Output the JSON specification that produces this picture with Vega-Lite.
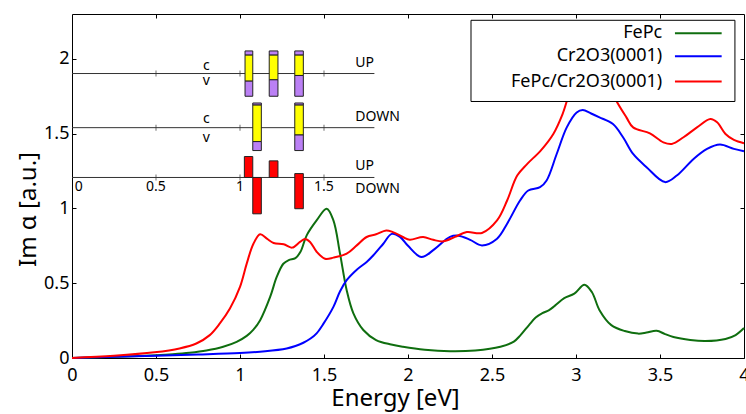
{
  "$schema": "https://vega.github.io/schema/vega-lite/v6.json",
  "width": 672,
  "height": 344,
  "autosize": "none",
  "padding": {"left": 72, "top": 14, "right": 2, "bottom": 56},
  "background": "white",
  "config": {"font": "Noto Sans", "view": {"stroke": null}},
  "datasets": {
    "curves": [
      {"series": "FePc", "E": 0.0, "v": 0.0},
      {"series": "FePc", "E": 0.2, "v": 0.006},
      {"series": "FePc", "E": 0.4, "v": 0.013},
      {"series": "FePc", "E": 0.5, "v": 0.018},
      {"series": "FePc", "E": 0.6, "v": 0.025},
      {"series": "FePc", "E": 0.7, "v": 0.035},
      {"series": "FePc", "E": 0.8, "v": 0.05},
      {"series": "FePc", "E": 0.9, "v": 0.075},
      {"series": "FePc", "E": 0.98, "v": 0.108},
      {"series": "FePc", "E": 1.04, "v": 0.148},
      {"series": "FePc", "E": 1.08, "v": 0.19},
      {"series": "FePc", "E": 1.12, "v": 0.253},
      {"series": "FePc", "E": 1.18, "v": 0.41},
      {"series": "FePc", "E": 1.218, "v": 0.54},
      {"series": "FePc", "E": 1.258, "v": 0.63},
      {"series": "FePc", "E": 1.29, "v": 0.655},
      {"series": "FePc", "E": 1.33, "v": 0.668},
      {"series": "FePc", "E": 1.36, "v": 0.71},
      {"series": "FePc", "E": 1.397, "v": 0.82},
      {"series": "FePc", "E": 1.456, "v": 0.92},
      {"series": "FePc", "E": 1.516, "v": 0.998},
      {"series": "FePc", "E": 1.556, "v": 0.92},
      {"series": "FePc", "E": 1.595, "v": 0.7},
      {"series": "FePc", "E": 1.635, "v": 0.453},
      {"series": "FePc", "E": 1.675, "v": 0.298},
      {"series": "FePc", "E": 1.734, "v": 0.187},
      {"series": "FePc", "E": 1.81, "v": 0.12},
      {"series": "FePc", "E": 1.9, "v": 0.09},
      {"series": "FePc", "E": 1.97, "v": 0.075},
      {"series": "FePc", "E": 2.1, "v": 0.055},
      {"series": "FePc", "E": 2.25, "v": 0.045},
      {"series": "FePc", "E": 2.4, "v": 0.05},
      {"series": "FePc", "E": 2.55, "v": 0.075},
      {"series": "FePc", "E": 2.63, "v": 0.11},
      {"series": "FePc", "E": 2.67, "v": 0.153},
      {"series": "FePc", "E": 2.72, "v": 0.22},
      {"series": "FePc", "E": 2.76, "v": 0.27},
      {"series": "FePc", "E": 2.8, "v": 0.3},
      {"series": "FePc", "E": 2.84, "v": 0.32},
      {"series": "FePc", "E": 2.875, "v": 0.35},
      {"series": "FePc", "E": 2.93, "v": 0.4},
      {"series": "FePc", "E": 2.99, "v": 0.43},
      {"series": "FePc", "E": 3.05, "v": 0.49},
      {"series": "FePc", "E": 3.095, "v": 0.44},
      {"series": "FePc", "E": 3.14, "v": 0.32},
      {"series": "FePc", "E": 3.21, "v": 0.22},
      {"series": "FePc", "E": 3.29, "v": 0.18},
      {"series": "FePc", "E": 3.37, "v": 0.163},
      {"series": "FePc", "E": 3.42, "v": 0.17},
      {"series": "FePc", "E": 3.48, "v": 0.182},
      {"series": "FePc", "E": 3.53, "v": 0.16},
      {"series": "FePc", "E": 3.58, "v": 0.14},
      {"series": "FePc", "E": 3.68, "v": 0.12},
      {"series": "FePc", "E": 3.77, "v": 0.113},
      {"series": "FePc", "E": 3.89, "v": 0.127},
      {"series": "FePc", "E": 3.95, "v": 0.153},
      {"series": "FePc", "E": 4.0, "v": 0.2},
      {"series": "Cr2O3(0001)", "E": 0.0, "v": 0.0},
      {"series": "Cr2O3(0001)", "E": 0.25, "v": 0.008},
      {"series": "Cr2O3(0001)", "E": 0.5, "v": 0.015},
      {"series": "Cr2O3(0001)", "E": 0.75, "v": 0.023},
      {"series": "Cr2O3(0001)", "E": 1.0, "v": 0.033},
      {"series": "Cr2O3(0001)", "E": 1.15, "v": 0.045},
      {"series": "Cr2O3(0001)", "E": 1.278, "v": 0.064},
      {"series": "Cr2O3(0001)", "E": 1.33, "v": 0.08},
      {"series": "Cr2O3(0001)", "E": 1.377, "v": 0.102},
      {"series": "Cr2O3(0001)", "E": 1.42, "v": 0.13},
      {"series": "Cr2O3(0001)", "E": 1.456, "v": 0.165},
      {"series": "Cr2O3(0001)", "E": 1.496, "v": 0.228},
      {"series": "Cr2O3(0001)", "E": 1.556, "v": 0.342},
      {"series": "Cr2O3(0001)", "E": 1.595, "v": 0.445},
      {"series": "Cr2O3(0001)", "E": 1.635, "v": 0.52},
      {"series": "Cr2O3(0001)", "E": 1.695, "v": 0.59},
      {"series": "Cr2O3(0001)", "E": 1.754, "v": 0.642},
      {"series": "Cr2O3(0001)", "E": 1.794, "v": 0.687},
      {"series": "Cr2O3(0001)", "E": 1.853, "v": 0.764},
      {"series": "Cr2O3(0001)", "E": 1.903, "v": 0.83},
      {"series": "Cr2O3(0001)", "E": 1.952, "v": 0.81},
      {"series": "Cr2O3(0001)", "E": 2.0, "v": 0.75},
      {"series": "Cr2O3(0001)", "E": 2.08, "v": 0.675},
      {"series": "Cr2O3(0001)", "E": 2.16, "v": 0.73},
      {"series": "Cr2O3(0001)", "E": 2.25, "v": 0.81},
      {"series": "Cr2O3(0001)", "E": 2.3, "v": 0.818},
      {"series": "Cr2O3(0001)", "E": 2.37, "v": 0.79},
      {"series": "Cr2O3(0001)", "E": 2.44, "v": 0.753},
      {"series": "Cr2O3(0001)", "E": 2.53, "v": 0.798},
      {"series": "Cr2O3(0001)", "E": 2.59, "v": 0.898},
      {"series": "Cr2O3(0001)", "E": 2.667, "v": 1.053},
      {"series": "Cr2O3(0001)", "E": 2.716, "v": 1.12},
      {"series": "Cr2O3(0001)", "E": 2.786, "v": 1.142},
      {"series": "Cr2O3(0001)", "E": 2.825, "v": 1.187},
      {"series": "Cr2O3(0001)", "E": 2.885, "v": 1.364},
      {"series": "Cr2O3(0001)", "E": 2.945, "v": 1.542},
      {"series": "Cr2O3(0001)", "E": 3.004, "v": 1.642},
      {"series": "Cr2O3(0001)", "E": 3.04, "v": 1.658},
      {"series": "Cr2O3(0001)", "E": 3.09, "v": 1.635},
      {"series": "Cr2O3(0001)", "E": 3.14, "v": 1.609},
      {"series": "Cr2O3(0001)", "E": 3.22, "v": 1.564},
      {"series": "Cr2O3(0001)", "E": 3.28, "v": 1.476},
      {"series": "Cr2O3(0001)", "E": 3.34, "v": 1.364},
      {"series": "Cr2O3(0001)", "E": 3.42, "v": 1.276},
      {"series": "Cr2O3(0001)", "E": 3.53, "v": 1.176},
      {"series": "Cr2O3(0001)", "E": 3.6, "v": 1.22},
      {"series": "Cr2O3(0001)", "E": 3.7, "v": 1.331},
      {"series": "Cr2O3(0001)", "E": 3.78, "v": 1.398},
      {"series": "Cr2O3(0001)", "E": 3.857, "v": 1.427},
      {"series": "Cr2O3(0001)", "E": 3.94, "v": 1.398},
      {"series": "Cr2O3(0001)", "E": 4.0, "v": 1.382},
      {"series": "FePc/Cr2O3(0001)", "E": 0.0, "v": 0.0},
      {"series": "FePc/Cr2O3(0001)", "E": 0.25, "v": 0.015},
      {"series": "FePc/Cr2O3(0001)", "E": 0.49, "v": 0.038},
      {"series": "FePc/Cr2O3(0001)", "E": 0.64, "v": 0.064},
      {"series": "FePc/Cr2O3(0001)", "E": 0.74, "v": 0.097},
      {"series": "FePc/Cr2O3(0001)", "E": 0.82, "v": 0.153},
      {"series": "FePc/Cr2O3(0001)", "E": 0.88, "v": 0.231},
      {"series": "FePc/Cr2O3(0001)", "E": 0.94, "v": 0.331},
      {"series": "FePc/Cr2O3(0001)", "E": 1.0, "v": 0.476},
      {"series": "FePc/Cr2O3(0001)", "E": 1.04, "v": 0.631},
      {"series": "FePc/Cr2O3(0001)", "E": 1.08, "v": 0.764},
      {"series": "FePc/Cr2O3(0001)", "E": 1.12, "v": 0.827},
      {"series": "FePc/Cr2O3(0001)", "E": 1.16, "v": 0.798},
      {"series": "FePc/Cr2O3(0001)", "E": 1.2, "v": 0.769},
      {"series": "FePc/Cr2O3(0001)", "E": 1.26, "v": 0.76},
      {"series": "FePc/Cr2O3(0001)", "E": 1.31, "v": 0.738},
      {"series": "FePc/Cr2O3(0001)", "E": 1.357, "v": 0.776},
      {"series": "FePc/Cr2O3(0001)", "E": 1.387, "v": 0.796},
      {"series": "FePc/Cr2O3(0001)", "E": 1.417, "v": 0.776},
      {"series": "FePc/Cr2O3(0001)", "E": 1.457, "v": 0.709},
      {"series": "FePc/Cr2O3(0001)", "E": 1.506, "v": 0.664},
      {"series": "FePc/Cr2O3(0001)", "E": 1.556, "v": 0.671},
      {"series": "FePc/Cr2O3(0001)", "E": 1.635, "v": 0.698},
      {"series": "FePc/Cr2O3(0001)", "E": 1.695, "v": 0.753},
      {"series": "FePc/Cr2O3(0001)", "E": 1.754, "v": 0.809},
      {"series": "FePc/Cr2O3(0001)", "E": 1.81, "v": 0.827},
      {"series": "FePc/Cr2O3(0001)", "E": 1.87, "v": 0.853},
      {"series": "FePc/Cr2O3(0001)", "E": 1.91, "v": 0.842},
      {"series": "FePc/Cr2O3(0001)", "E": 1.97, "v": 0.809},
      {"series": "FePc/Cr2O3(0001)", "E": 2.01, "v": 0.791},
      {"series": "FePc/Cr2O3(0001)", "E": 2.09, "v": 0.809},
      {"series": "FePc/Cr2O3(0001)", "E": 2.15, "v": 0.79},
      {"series": "FePc/Cr2O3(0001)", "E": 2.21, "v": 0.78},
      {"series": "FePc/Cr2O3(0001)", "E": 2.28, "v": 0.81},
      {"series": "FePc/Cr2O3(0001)", "E": 2.35, "v": 0.842},
      {"series": "FePc/Cr2O3(0001)", "E": 2.44, "v": 0.836},
      {"series": "FePc/Cr2O3(0001)", "E": 2.53, "v": 0.92},
      {"series": "FePc/Cr2O3(0001)", "E": 2.59, "v": 1.053},
      {"series": "FePc/Cr2O3(0001)", "E": 2.65, "v": 1.22},
      {"series": "FePc/Cr2O3(0001)", "E": 2.71, "v": 1.298},
      {"series": "FePc/Cr2O3(0001)", "E": 2.79, "v": 1.387},
      {"series": "FePc/Cr2O3(0001)", "E": 2.865, "v": 1.498},
      {"series": "FePc/Cr2O3(0001)", "E": 2.92, "v": 1.631},
      {"series": "FePc/Cr2O3(0001)", "E": 2.96, "v": 1.764},
      {"series": "FePc/Cr2O3(0001)", "E": 3.0, "v": 1.853},
      {"series": "FePc/Cr2O3(0001)", "E": 3.05, "v": 1.95},
      {"series": "FePc/Cr2O3(0001)", "E": 3.1, "v": 1.99},
      {"series": "FePc/Cr2O3(0001)", "E": 3.15, "v": 1.95},
      {"series": "FePc/Cr2O3(0001)", "E": 3.2, "v": 1.82},
      {"series": "FePc/Cr2O3(0001)", "E": 3.24, "v": 1.72},
      {"series": "FePc/Cr2O3(0001)", "E": 3.3, "v": 1.609},
      {"series": "FePc/Cr2O3(0001)", "E": 3.34, "v": 1.542},
      {"series": "FePc/Cr2O3(0001)", "E": 3.44, "v": 1.502},
      {"series": "FePc/Cr2O3(0001)", "E": 3.52, "v": 1.442},
      {"series": "FePc/Cr2O3(0001)", "E": 3.57, "v": 1.431},
      {"series": "FePc/Cr2O3(0001)", "E": 3.64, "v": 1.476},
      {"series": "FePc/Cr2O3(0001)", "E": 3.72, "v": 1.542},
      {"series": "FePc/Cr2O3(0001)", "E": 3.8, "v": 1.598},
      {"series": "FePc/Cr2O3(0001)", "E": 3.84, "v": 1.576},
      {"series": "FePc/Cr2O3(0001)", "E": 3.89, "v": 1.498},
      {"series": "FePc/Cr2O3(0001)", "E": 3.94, "v": 1.458},
      {"series": "FePc/Cr2O3(0001)", "E": 4.0, "v": 1.436}
    ],
    "insetLines": [{"base": 1.902}, {"base": 1.54}, {"base": 1.207}],
    "insetTicks": [
      {"pos": 0.5, "base": 1.902}, {"pos": 1.0, "base": 1.902}, {"pos": 1.5, "base": 1.902},
      {"pos": 0.5, "base": 1.54}, {"pos": 1.0, "base": 1.54}, {"pos": 1.5, "base": 1.54},
      {"pos": 0.5, "base": 1.207}, {"pos": 1.0, "base": 1.207}, {"pos": 1.5, "base": 1.207}
    ],
    "bars": [
      {"e0": 1.03, "e1": 1.076, "lo": 2.025, "hi": 2.053, "part": "v"},
      {"e0": 1.03, "e1": 1.076, "lo": 1.851, "hi": 2.025, "part": "c"},
      {"e0": 1.03, "e1": 1.076, "lo": 1.75, "hi": 1.851, "part": "v"},
      {"e0": 1.174, "e1": 1.226, "lo": 2.025, "hi": 2.053, "part": "v"},
      {"e0": 1.174, "e1": 1.226, "lo": 1.86, "hi": 2.025, "part": "c"},
      {"e0": 1.174, "e1": 1.226, "lo": 1.75, "hi": 1.86, "part": "v"},
      {"e0": 1.326, "e1": 1.377, "lo": 2.025, "hi": 2.053, "part": "v"},
      {"e0": 1.326, "e1": 1.377, "lo": 1.889, "hi": 2.025, "part": "c"},
      {"e0": 1.326, "e1": 1.377, "lo": 1.75, "hi": 1.889, "part": "v"},
      {"e0": 1.076, "e1": 1.127, "lo": 1.691, "hi": 1.705, "part": "v"},
      {"e0": 1.076, "e1": 1.127, "lo": 1.447, "hi": 1.691, "part": "c"},
      {"e0": 1.076, "e1": 1.127, "lo": 1.387, "hi": 1.447, "part": "v"},
      {"e0": 1.326, "e1": 1.377, "lo": 1.691, "hi": 1.705, "part": "v"},
      {"e0": 1.326, "e1": 1.377, "lo": 1.491, "hi": 1.691, "part": "c"},
      {"e0": 1.326, "e1": 1.377, "lo": 1.387, "hi": 1.491, "part": "v"},
      {"e0": 1.026, "e1": 1.076, "lo": 1.207, "hi": 1.347, "part": "spin"},
      {"e0": 1.174, "e1": 1.226, "lo": 1.207, "hi": 1.318, "part": "spin"},
      {"e0": 1.076, "e1": 1.127, "lo": 0.964, "hi": 1.207, "part": "spin"},
      {"e0": 1.326, "e1": 1.377, "lo": 0.998, "hi": 1.233, "part": "spin"}
    ],
    "insetCentered": [
      {"label": "c", "e": 0.8, "val": 1.953},
      {"label": "v", "e": 0.8, "val": 1.853},
      {"label": "c", "e": 0.8, "val": 1.6},
      {"label": "v", "e": 0.8, "val": 1.473},
      {"label": "0", "e": 0.04, "val": 1.144},
      {"label": "0.5", "e": 0.5, "val": 1.144},
      {"label": "1", "e": 1.0, "val": 1.144},
      {"label": "1.5", "e": 1.5, "val": 1.144}
    ],
    "insetSpin": [
      {"label": "UP", "e": 1.686, "val": 1.973},
      {"label": "DOWN", "e": 1.686, "val": 1.612},
      {"label": "UP", "e": 1.686, "val": 1.287},
      {"label": "DOWN", "e": 1.686, "val": 1.133}
    ]
  },
  "layer": [
    {
      "data": {"name": "curves"},
      "mark": {"type": "line", "strokeWidth": 2, "interpolate": "catmull-rom"},
      "encoding": {
        "x": {
          "field": "E", "type": "quantitative",
          "scale": {"domain": [0, 4], "nice": false},
          "axis": {
            "orient": "bottom", "values": [0, 0.5, 1, 1.5, 2, 2.5, 3, 3.5, 4], "format": "~g",
            "grid": false, "tickSize": -4, "tickColor": "#000", "domainColor": "#000",
            "labelFontSize": 18, "labelColor": "#000", "labelPadding": 12, "labelFlush": false, "labelOverlap": false,
            "title": "Energy [eV]", "titleFontSize": 24, "titleFontWeight": "normal", "titleColor": "#000",
            "titleX": 323, "titleY": 47, "titleBaseline": "alphabetic"
          }
        },
        "y": {
          "field": "v", "type": "quantitative",
          "scale": {"domain": [0, 2.3], "nice": false},
          "axis": {
            "orient": "left", "values": [0, 0.5, 1, 1.5, 2], "format": "~g",
            "grid": false, "tickSize": -4, "tickColor": "#000", "domainColor": "#000",
            "labelFontSize": 18, "labelColor": "#000", "labelPadding": 7, "labelOverlap": false,
            "title": "Im α [a.u.]", "titleFontSize": 24, "titleFontWeight": "normal", "titleColor": "#000",
            "titleX": -37, "titleY": 195, "titleBaseline": "alphabetic"
          }
        },
        "color": {
          "field": "series", "type": "nominal",
          "scale": {"domain": ["FePc", "Cr2O3(0001)", "FePc/Cr2O3(0001)"], "range": ["#0f6e0f", "#0000ff", "#ff0000"]},
          "legend": null
        }
      }
    },
    {
      "data": {"name": "insetLines"},
      "mark": {"type": "rule", "color": "#333", "strokeWidth": 1},
      "encoding": {
        "x": {"datum": 0, "axis": null},
        "x2": {"datum": 1.8},
        "y": {"field": "base", "type": "quantitative", "axis": null}
      }
    },
    {
      "data": {"name": "insetTicks"},
      "mark": {"type": "tick", "orient": "vertical", "size": 6, "thickness": 1, "color": "#333"},
      "encoding": {
        "x": {"field": "pos", "type": "quantitative", "axis": null},
        "y": {"field": "base", "type": "quantitative", "axis": null}
      }
    },
    {
      "data": {"name": "bars"},
      "mark": {"type": "rect", "stroke": "#222", "strokeWidth": 1},
      "encoding": {
        "x": {"field": "e0", "type": "quantitative", "axis": null},
        "x2": {"field": "e1"},
        "y": {"field": "lo", "type": "quantitative", "axis": null},
        "y2": {"field": "hi"},
        "fill": {
          "field": "part", "type": "nominal",
          "scale": {"domain": ["v", "c", "spin"], "range": ["#bb80f5", "#ffff00", "#ff0000"]},
          "legend": null
        }
      }
    },
    {
      "data": {"name": "insetCentered"},
      "mark": {"type": "text", "align": "center", "baseline": "middle", "fontSize": 14, "color": "#000"},
      "encoding": {
        "x": {"field": "e", "type": "quantitative", "axis": null},
        "y": {"field": "val", "type": "quantitative", "axis": null},
        "text": {"field": "label"}
      }
    },
    {
      "data": {"name": "insetSpin"},
      "mark": {"type": "text", "align": "left", "baseline": "middle", "fontSize": 14, "color": "#000"},
      "encoding": {
        "x": {"field": "e", "type": "quantitative", "axis": null},
        "y": {"field": "val", "type": "quantitative", "axis": null},
        "text": {"field": "label"}
      }
    },
    {
      "data": {"values": [{}]},
      "mark": {"type": "rect", "fill": "white", "stroke": "#000", "strokeWidth": 1},
      "encoding": {
        "x": {"datum": 2.375, "axis": null},
        "x2": {"datum": 3.946},
        "y": {"datum": 1.715, "axis": null},
        "y2": {"datum": 2.258}
      }
    },
    {
      "data": {"values": [{"series": "FePc"}]},
      "layer": [
        {
          "mark": {"type": "rule", "strokeWidth": 2},
          "encoding": {
            "x": {"datum": 3.589, "axis": null}, "x2": {"datum": 3.867},
            "y": {"datum": 2.171, "axis": null},
            "color": {"field": "series", "type": "nominal", "legend": null}
          }
        },
        {
          "mark": {"type": "text", "align": "right", "baseline": "middle", "fontSize": 18, "color": "#000"},
          "encoding": {
            "x": {"datum": 3.513, "axis": null},
            "y": {"datum": 2.171, "axis": null},
            "text": {"field": "series"}
          }
        }
      ]
    },
    {
      "data": {"values": [{"series": "Cr2O3(0001)"}]},
      "layer": [
        {
          "mark": {"type": "rule", "strokeWidth": 2},
          "encoding": {
            "x": {"datum": 3.589, "axis": null}, "x2": {"datum": 3.867},
            "y": {"datum": 2.017, "axis": null},
            "color": {"field": "series", "type": "nominal", "legend": null}
          }
        },
        {
          "mark": {"type": "text", "align": "right", "baseline": "middle", "fontSize": 18, "color": "#000"},
          "encoding": {
            "x": {"datum": 3.513, "axis": null},
            "y": {"datum": 2.017, "axis": null},
            "text": {"field": "series"}
          }
        }
      ]
    },
    {
      "data": {"values": [{"series": "FePc/Cr2O3(0001)"}]},
      "layer": [
        {
          "mark": {"type": "rule", "strokeWidth": 2},
          "encoding": {
            "x": {"datum": 3.589, "axis": null}, "x2": {"datum": 3.867},
            "y": {"datum": 1.848, "axis": null},
            "color": {"field": "series", "type": "nominal", "legend": null}
          }
        },
        {
          "mark": {"type": "text", "align": "right", "baseline": "middle", "fontSize": 18, "color": "#000"},
          "encoding": {
            "x": {"datum": 3.513, "axis": null},
            "y": {"datum": 1.848, "axis": null},
            "text": {"field": "series"}
          }
        }
      ]
    },
    {
      "data": {"values": [{"E": 0, "v": 0}]},
      "mark": {"type": "point", "opacity": 0},
      "encoding": {
        "x": {
          "field": "E", "type": "quantitative",
          "axis": {"orient": "top", "values": [0.5, 1, 1.5, 2, 2.5, 3, 3.5], "labels": false, "title": null, "grid": false, "tickSize": -4, "tickColor": "#000", "domainColor": "#000"}
        },
        "y": {
          "field": "v", "type": "quantitative",
          "axis": {"orient": "right", "values": [0.5, 1, 1.5, 2], "labels": false, "title": null, "grid": false, "tickSize": -4, "tickColor": "#000", "domainColor": "#000"}
        }
      }
    }
  ],
  "resolve": {"axis": {"x": "independent", "y": "independent"}}
}
